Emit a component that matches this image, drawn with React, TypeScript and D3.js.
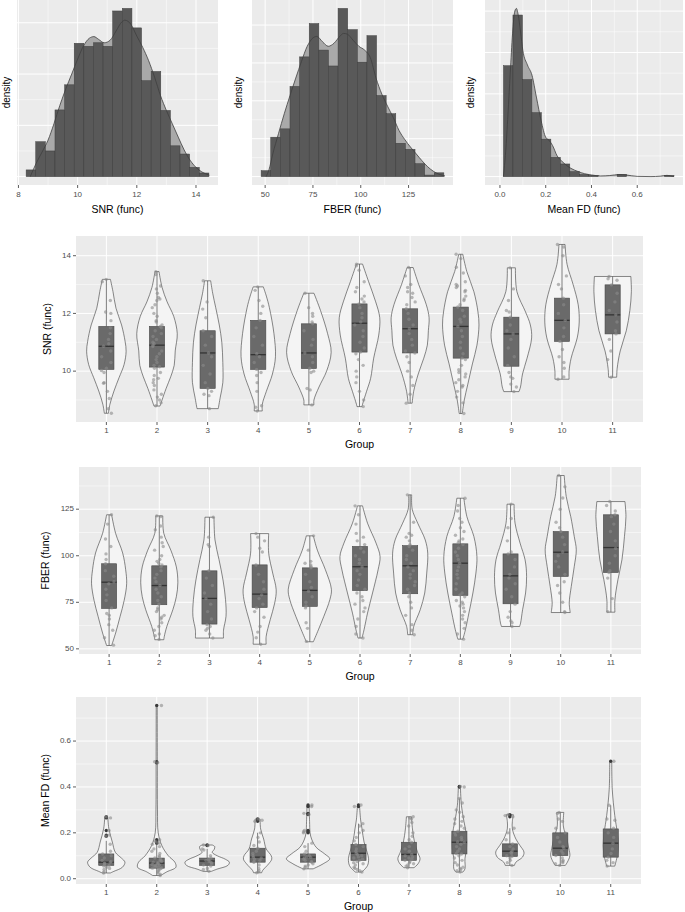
import React from "react";
import * as d3 from "d3";

const FONT = "'Liberation Sans', Arial, Helvetica, sans-serif";
const PANEL_BG = "#ebebeb";

// ---------- top row: histograms with density overlay ----------
const snrBinStart = 8.26;
const snrBinWidth = 0.325;
const snrHist = [0.013, 0.068, 0.05, 0.13, 0.179, 0.26, 0.254, 0.261, 0.254, 0.323, 0.328, 0.29, 0.187, 0.205, 0.129, 0.06, 0.044, 0.018, 0.007];
const snrDensity = [
  [8.4, 0], [8.6, 0.026], [8.8, 0.048], [9.0, 0.071], [9.2, 0.103], [9.4, 0.139], [9.6, 0.171], [9.8, 0.2],
  [10.0, 0.229], [10.2, 0.255], [10.4, 0.27], [10.55, 0.273], [10.7, 0.268], [10.9, 0.261], [11.1, 0.266],
  [11.3, 0.284], [11.5, 0.302], [11.6, 0.305], [11.8, 0.297], [12.0, 0.274], [12.2, 0.252], [12.4, 0.226],
  [12.6, 0.194], [12.8, 0.158], [13.0, 0.129], [13.2, 0.103], [13.4, 0.077], [13.6, 0.052], [13.8, 0.032],
  [14.0, 0.018], [14.2, 0.009], [14.45, 0.003],
];

const fberBinStart = 47.9;
const fberBinWidth = 5.03;
const fberHist = [0.00078, 0.0052, 0.0063, 0.0119, 0.0158, 0.0202, 0.0167, 0.0146, 0.0222, 0.0194, 0.0151, 0.0186, 0.0107, 0.0083, 0.0044, 0.0036, 0.0017, 0.0002, 0.0005];
const fberDensity = [
  [50.5, 0], [52, 0.0009], [54, 0.003], [57, 0.0057], [60, 0.0083], [63, 0.0107], [66, 0.013], [69, 0.0152],
  [72, 0.0172], [75, 0.0183], [77, 0.0185], [80, 0.0178], [83, 0.0172], [86, 0.0176], [89, 0.0185], [91, 0.0189],
  [93, 0.0188], [96, 0.018], [99, 0.0172], [102, 0.0167], [105, 0.0157], [108, 0.013], [111, 0.0109],
  [114, 0.0093], [117, 0.0078], [120, 0.0061], [123, 0.0049], [126, 0.0039], [129, 0.003], [132, 0.0021],
  [135, 0.0013], [138, 0.0007], [141, 0.0003], [144, 0.0001],
];

const fdBinStart = -0.026;
const fdBinWidth = 0.0414;
const fdHist = [0, 5.36, 7.81, 4.69, 3.09, 1.81, 0.93, 0.61, 0.24, 0.1, 0.06, 0, 0, 0.11, 0, 0, 0, 0, 0.06];
const fdDensity = [
  [0.015, 0], [0.025, 1.2], [0.035, 3.0], [0.045, 5.0], [0.055, 6.9], [0.065, 8.0], [0.072, 8.13], [0.08, 7.8],
  [0.09, 7.0], [0.1, 6.1], [0.12, 5.4], [0.14, 4.9], [0.16, 3.8], [0.18, 2.7], [0.2, 1.9], [0.215, 1.75],
  [0.23, 1.5], [0.25, 1.0], [0.27, 0.75], [0.29, 0.55], [0.31, 0.4], [0.34, 0.25], [0.37, 0.14], [0.4, 0.08],
  [0.44, 0.03], [0.48, 0.05], [0.52, 0.1], [0.55, 0.08], [0.6, 0.01], [0.66, 0], [0.7, 0.02], [0.73, 0.06], [0.76, 0],
];

// ---------- violin panels ----------
const groups = ["1", "2", "3", "4", "5", "6", "7", "8", "9", "10", "11"];

// profiles: [value, half width in group units]
const snrViolins = [
  [[13.18, 0.08], [12.76, 0.13], [12.18, 0.19], [11.6, 0.3], [11.03, 0.37], [10.69, 0.39], [10.23, 0.35], [9.77, 0.25], [9.31, 0.15], [8.85, 0.07], [8.54, 0.04]],
  [[13.45, 0.04], [12.9, 0.1], [12.4, 0.2], [11.9, 0.33], [11.3, 0.4], [10.7, 0.36], [10.2, 0.34], [9.8, 0.27], [9.4, 0.18], [9.0, 0.1], [8.79, 0.06]],
  [[13.13, 0.06], [12.7, 0.1], [12.2, 0.16], [11.6, 0.23], [11.0, 0.28], [10.3, 0.3], [9.6, 0.3], [9.1, 0.25], [8.7, 0.21]],
  [[12.92, 0.1], [12.6, 0.16], [12.2, 0.22], [11.3, 0.31], [10.5, 0.34], [9.9, 0.28], [9.3, 0.16], [8.85, 0.08], [8.62, 0.08]],
  [[12.7, 0.1], [12.1, 0.23], [11.3, 0.37], [10.65, 0.44], [10.0, 0.35], [9.45, 0.2], [9.0, 0.1], [8.83, 0.1]],
  [[13.71, 0.06], [13.1, 0.18], [12.4, 0.32], [11.85, 0.4], [11.25, 0.38], [10.45, 0.28], [9.75, 0.22], [9.3, 0.14], [8.85, 0.06], [8.77, 0.05]],
  [[13.59, 0.06], [13.0, 0.17], [12.3, 0.32], [11.85, 0.375], [11.4, 0.36], [10.9, 0.34], [10.45, 0.27], [9.9, 0.16], [9.3, 0.07], [8.89, 0.04]],
  [[14.05, 0.04], [13.45, 0.12], [12.75, 0.26], [12.05, 0.34], [11.6, 0.36], [10.9, 0.32], [10.25, 0.23], [9.55, 0.14], [9.0, 0.07], [8.53, 0.03]],
  [[13.58, 0.08], [12.75, 0.11], [12.05, 0.28], [11.6, 0.375], [11.15, 0.4], [10.45, 0.31], [9.9, 0.22], [9.45, 0.18], [9.29, 0.15]],
  [[14.39, 0.06], [13.7, 0.1], [13.0, 0.22], [12.3, 0.32], [11.7, 0.34], [11.15, 0.3], [10.45, 0.18], [10.0, 0.14], [9.72, 0.14]],
  [[13.28, 0.36], [12.75, 0.37], [12.1, 0.34], [11.4, 0.27], [10.7, 0.15], [10.1, 0.09], [9.79, 0.08]],
];
// [whisker low, q1, median, q3, whisker high]
const snrBoxes = [
  [8.54, 10.06, 10.86, 11.55, 13.18], [8.79, 10.14, 10.9, 11.55, 13.45], [8.7, 9.4, 10.63, 11.4, 13.13],
  [8.62, 10.06, 10.57, 11.76, 12.92], [8.83, 10.09, 10.63, 11.64, 12.7], [8.77, 10.66, 11.66, 12.33, 13.71],
  [8.89, 10.63, 11.47, 12.16, 13.59], [8.53, 10.45, 11.55, 12.22, 14.05], [9.29, 10.17, 11.29, 11.87, 13.58],
  [9.72, 11.03, 11.76, 12.53, 14.39], [9.79, 11.29, 11.95, 12.99, 13.28],
];
const snrPoints = [
  [13.18, 13.1, 12.45, 12.05, 12.0, 11.75, 11.5, 11.3, 11.1, 10.95, 10.86, 10.7, 10.5, 10.3, 10.1, 10.02, 9.95, 9.6, 9.58, 9.3, 9.05, 8.7, 8.54],
  [13.45, 13.35, 12.95, 12.85, 12.7, 12.55, 12.5, 12.45, 12.3, 12.2, 12.0, 11.9, 11.75, 11.7, 11.6, 11.55, 11.5, 11.4, 11.3, 11.2, 11.1, 11.0, 10.95, 10.9, 10.85, 10.7, 10.6, 10.5, 10.4, 10.3, 10.2, 10.15, 10.1, 9.95, 9.85, 9.75, 9.7, 9.6, 9.5, 9.35, 9.2, 9.1, 9.0, 8.9, 8.8],
  [13.13, 12.4, 12.15, 11.85, 11.4, 11.2, 10.9, 10.63, 10.5, 10.2, 9.9, 9.6, 9.4, 9.3, 9.2, 9.15, 8.7],
  [12.92, 12.8, 12.45, 12.25, 12.0, 11.76, 11.5, 11.2, 10.9, 10.6, 10.5, 10.3, 10.06, 9.95, 9.85, 9.6, 9.3, 8.8, 8.75, 8.62],
  [12.7, 12.2, 12.0, 11.9, 11.7, 11.64, 11.4, 11.1, 10.9, 10.63, 10.5, 10.3, 10.1, 10.0, 9.95, 9.4, 9.35, 8.83],
  [13.71, 13.65, 13.5, 13.1, 12.9, 12.75, 12.6, 12.5, 12.4, 12.33, 12.2, 12.0, 11.85, 11.7, 11.6, 11.4, 11.2, 11.0, 10.8, 10.66, 10.6, 10.4, 10.2, 10.0, 9.8, 9.6, 9.3, 9.0, 8.77],
  [13.59, 13.3, 13.0, 12.9, 12.75, 12.7, 12.55, 12.4, 12.3, 12.16, 12.0, 11.8, 11.6, 11.47, 11.3, 11.1, 10.9, 10.7, 10.63, 10.5, 10.3, 10.0, 9.8, 9.5, 9.2, 8.89],
  [14.05, 13.9, 13.6, 13.4, 13.1, 13.0, 12.95, 12.9, 12.8, 12.75, 12.6, 12.5, 12.45, 12.3, 12.22, 12.1, 11.9, 11.8, 11.7, 11.55, 11.4, 11.2, 11.0, 10.8, 10.6, 10.45, 10.4, 10.2, 10.05, 9.95, 9.9, 9.8, 9.7, 9.6, 9.5, 9.45, 9.3, 9.1, 8.9, 8.53],
  [13.58, 12.85, 12.45, 12.1, 12.05, 11.87, 11.6, 11.4, 11.29, 11.1, 10.8, 10.5, 10.2, 9.95, 9.8, 9.75, 9.55, 9.45, 9.29],
  [14.39, 14.3, 14.0, 13.3, 13.0, 12.85, 12.53, 12.3, 12.0, 11.76, 11.5, 11.2, 11.03, 10.75, 10.5, 10.3, 10.1, 9.8, 9.72],
  [13.28, 13.2, 13.15, 12.99, 12.7, 12.4, 12.1, 11.95, 11.7, 11.4, 11.29, 11.1, 10.7, 10.4, 9.79],
];

const fberViolins = [
  [[122, 0.05], [112, 0.13], [101.5, 0.27], [92.5, 0.33], [85, 0.35], [76, 0.3], [67.5, 0.22], [58.5, 0.13], [51.8, 0.05]],
  [[121.4, 0.07], [112, 0.09], [103, 0.23], [94, 0.34], [85.5, 0.37], [78, 0.34], [71, 0.27], [62, 0.15], [56.7, 0.1], [54.9, 0.09]],
  [[120.7, 0.09], [108.5, 0.11], [98, 0.19], [87, 0.27], [76.5, 0.32], [67.5, 0.33], [60, 0.28], [55.8, 0.28]],
  [[111.9, 0.18], [101.4, 0.18], [90.7, 0.26], [81.7, 0.33], [74.6, 0.3], [65.6, 0.21], [56.7, 0.13], [52.5, 0.13]],
  [[110.7, 0.07], [103, 0.15], [92.5, 0.31], [82, 0.43], [76.5, 0.4], [67.5, 0.28], [60.2, 0.17], [53.8, 0.07]],
  [[126.8, 0.05], [117.5, 0.15], [106.8, 0.32], [99.6, 0.4], [92.4, 0.36], [80, 0.25], [69.2, 0.15], [60.2, 0.08], [55.8, 0.04]],
  [[132.7, 0.03], [125, 0.04], [117.5, 0.15], [108.5, 0.3], [101.4, 0.35], [90.7, 0.33], [80, 0.29], [71, 0.2], [62, 0.07], [57.6, 0.05]],
  [[130.9, 0.07], [121, 0.13], [110.3, 0.27], [99.6, 0.33], [90.7, 0.31], [80, 0.25], [69.2, 0.17], [60.2, 0.1], [55.2, 0.05]],
  [[127.7, 0.07], [117.5, 0.09], [106.8, 0.19], [97.8, 0.29], [88.9, 0.32], [80, 0.3], [71, 0.24], [63.8, 0.2], [62, 0.18]],
  [[143.1, 0.07], [131.8, 0.11], [121, 0.2], [110.3, 0.27], [103.2, 0.31], [94.2, 0.27], [83.5, 0.21], [74.6, 0.17], [69.5, 0.19]],
  [[129.1, 0.28], [121, 0.3], [110.3, 0.27], [97.8, 0.22], [87.1, 0.14], [76.3, 0.08], [69.7, 0.08]],
];
const fberBoxes = [
  [51.8, 71.7, 85.8, 95.7, 122], [54.9, 73.7, 84, 94.6, 121.4], [55.8, 63.3, 77.1, 91.9, 120.7],
  [52.5, 72.2, 79.4, 95.1, 111.9], [53.8, 72.8, 81.4, 93.5, 110.7], [55.8, 81.3, 94.1, 105, 126.8],
  [57.6, 79.6, 94.6, 105.4, 132.7], [55.2, 78.7, 96, 106.4, 130.9], [62, 74.2, 89.2, 101, 127.7],
  [69.5, 88.9, 101.9, 113, 143.1], [69.7, 91, 104.4, 122, 129.1],
];
const fberPoints = [
  [122, 117, 109, 105, 101, 98, 95.7, 92, 89, 86, 85, 82, 79, 76, 72, 69, 68, 66, 63, 60, 56, 52],
  [121.4, 121, 116, 114, 110, 107, 105, 103, 100, 98, 97, 96, 95, 94, 92, 90, 88, 86, 84, 82, 80, 78, 76, 74, 72, 71, 70, 68, 67, 66, 64, 62, 60, 58, 57, 55],
  [120.7, 110, 106, 105, 92, 88, 84, 80, 77, 74, 70, 66, 63, 62, 61, 60, 58, 55.8],
  [111.9, 110, 108, 104, 102, 95, 90, 86, 82, 79, 77, 74, 72, 70, 67, 62, 59, 56, 52.5],
  [110.7, 103, 97, 96, 95, 94, 93.5, 90, 86, 83, 81, 78, 75, 73, 72, 64, 61, 54],
  [126.8, 122, 117, 112, 110, 108, 106, 104, 102, 100, 98, 96, 94, 92, 90, 87, 84, 82, 80, 78, 76, 74, 72, 70, 66, 62, 58, 55.8],
  [132.7, 118, 112, 111, 110, 108, 106, 105, 103, 100, 98, 96, 94, 92, 90, 88, 86, 84, 82, 80, 78, 75, 72, 68, 63, 60, 57.6],
  [130.9, 127, 124, 120, 118, 115, 113, 111, 109, 108, 107, 106, 104, 102, 100, 98, 96, 94, 92, 90, 88, 85, 82, 80, 79, 78, 76, 75, 74, 73, 72, 70, 68, 66, 64, 61, 58, 55.2],
  [127.7, 120, 115, 108, 102, 101, 98, 94, 90, 88, 85, 82, 78, 74, 70, 67, 65, 64, 62],
  [143.1, 137, 131, 125, 118, 115, 113, 110, 106, 102, 100, 97, 94, 90, 86, 84, 80, 75, 70, 69.5],
  [129.1, 127, 124, 122, 121, 117, 113, 108, 104, 100, 96, 92, 91, 88, 77, 70],
];

const fdViolins = [
  [[0.27, 0.03], [0.22, 0.05], [0.16, 0.12], [0.115, 0.18], [0.09, 0.3], [0.072, 0.37], [0.05, 0.32], [0.032, 0.15], [0.025, 0.08]],
  [[0.755, 0.01], [0.5, 0.012], [0.3, 0.015], [0.2, 0.03], [0.145, 0.1], [0.1, 0.23], [0.072, 0.36], [0.05, 0.38], [0.03, 0.2], [0.014, 0.08]],
  [[0.147, 0.1], [0.14, 0.15], [0.128, 0.14], [0.115, 0.1], [0.1, 0.2], [0.085, 0.36], [0.072, 0.44], [0.058, 0.41], [0.042, 0.2], [0.032, 0.08]],
  [[0.26, 0.05], [0.217, 0.06], [0.173, 0.12], [0.13, 0.17], [0.1, 0.27], [0.085, 0.28], [0.065, 0.22], [0.036, 0.1], [0.026, 0.08]],
  [[0.321, 0.02], [0.25, 0.03], [0.2, 0.04], [0.173, 0.07], [0.137, 0.16], [0.108, 0.33], [0.087, 0.43], [0.065, 0.3], [0.046, 0.13], [0.043, 0.1]],
  [[0.321, 0.02], [0.26, 0.04], [0.217, 0.07], [0.16, 0.11], [0.116, 0.17], [0.087, 0.2], [0.058, 0.18], [0.036, 0.1], [0.029, 0.06]],
  [[0.27, 0.05], [0.217, 0.07], [0.16, 0.11], [0.116, 0.17], [0.087, 0.22], [0.065, 0.18], [0.048, 0.1]],
  [[0.402, 0.02], [0.32, 0.04], [0.25, 0.09], [0.19, 0.14], [0.13, 0.14], [0.087, 0.11], [0.043, 0.11], [0.029, 0.07]],
  [[0.279, 0.07], [0.25, 0.05], [0.217, 0.05], [0.173, 0.12], [0.145, 0.2], [0.116, 0.28], [0.094, 0.25], [0.072, 0.12], [0.058, 0.09]],
  [[0.289, 0.07], [0.23, 0.06], [0.173, 0.13], [0.13, 0.17], [0.1, 0.19], [0.072, 0.14], [0.058, 0.1]],
  [[0.512, 0.02], [0.39, 0.03], [0.275, 0.08], [0.2, 0.13], [0.145, 0.15], [0.1, 0.13], [0.055, 0.08]],
];
const fdBoxes = [
  [0.025, 0.058, 0.072, 0.108, 0.165], [0.014, 0.046, 0.068, 0.09, 0.15], [0.032, 0.058, 0.077, 0.09, 0.13],
  [0.026, 0.072, 0.094, 0.133, 0.2], [0.043, 0.072, 0.094, 0.108, 0.155], [0.029, 0.08, 0.111, 0.149, 0.24],
  [0.048, 0.08, 0.106, 0.159, 0.27], [0.029, 0.108, 0.159, 0.207, 0.35], [0.058, 0.097, 0.12, 0.152, 0.22],
  [0.058, 0.101, 0.133, 0.2, 0.289], [0.055, 0.094, 0.155, 0.217, 0.32],
];
const fdOutliers = [
  [0.27, 0.265, 0.21, 0.19, 0.185], [0.755, 0.51, 0.505, 0.17, 0.165, 0.16, 0.155], [0.147, 0.145],
  [0.26, 0.255, 0.25], [0.321, 0.315, 0.285, 0.28, 0.21, 0.205, 0.2], [0.321, 0.315], [],
  [0.402, 0.4], [0.279, 0.275, 0.27], [], [0.512],
];
const fdPoints = [
  [0.27, 0.265, 0.21, 0.19, 0.185, 0.15, 0.12, 0.108, 0.1, 0.09, 0.08, 0.075, 0.072, 0.068, 0.065, 0.06, 0.058, 0.055, 0.05, 0.045, 0.04, 0.03, 0.025],
  [0.755, 0.51, 0.505, 0.17, 0.165, 0.16, 0.155, 0.15, 0.14, 0.13, 0.12, 0.11, 0.1, 0.095, 0.09, 0.085, 0.08, 0.078, 0.075, 0.072, 0.07, 0.068, 0.065, 0.062, 0.06, 0.058, 0.055, 0.052, 0.05, 0.048, 0.046, 0.044, 0.04, 0.036, 0.03, 0.025, 0.02, 0.014],
  [0.147, 0.145, 0.13, 0.125, 0.1, 0.09, 0.085, 0.08, 0.077, 0.075, 0.07, 0.065, 0.06, 0.055, 0.045, 0.04, 0.032],
  [0.26, 0.255, 0.25, 0.2, 0.18, 0.16, 0.145, 0.133, 0.12, 0.11, 0.1, 0.094, 0.09, 0.085, 0.08, 0.075, 0.072, 0.06, 0.045, 0.035, 0.03, 0.026],
  [0.321, 0.315, 0.285, 0.28, 0.21, 0.205, 0.2, 0.155, 0.14, 0.12, 0.108, 0.1, 0.095, 0.094, 0.09, 0.085, 0.08, 0.075, 0.072, 0.065, 0.06, 0.055, 0.05, 0.043],
  [0.321, 0.315, 0.24, 0.23, 0.21, 0.2, 0.18, 0.165, 0.149, 0.14, 0.13, 0.12, 0.111, 0.105, 0.1, 0.095, 0.09, 0.085, 0.08, 0.075, 0.07, 0.065, 0.06, 0.05, 0.045, 0.04, 0.035, 0.029],
  [0.27, 0.265, 0.26, 0.245, 0.23, 0.2, 0.185, 0.17, 0.159, 0.14, 0.13, 0.12, 0.106, 0.1, 0.095, 0.09, 0.085, 0.08, 0.075, 0.07, 0.065, 0.06, 0.055, 0.048],
  [0.402, 0.4, 0.35, 0.33, 0.3, 0.29, 0.27, 0.26, 0.25, 0.24, 0.23, 0.22, 0.207, 0.2, 0.19, 0.18, 0.17, 0.16, 0.159, 0.15, 0.14, 0.13, 0.12, 0.11, 0.108, 0.1, 0.09, 0.08, 0.07, 0.06, 0.05, 0.045, 0.04, 0.035, 0.029],
  [0.279, 0.275, 0.27, 0.22, 0.2, 0.17, 0.152, 0.14, 0.13, 0.12, 0.115, 0.11, 0.1, 0.097, 0.09, 0.08, 0.07, 0.058],
  [0.289, 0.285, 0.26, 0.25, 0.22, 0.2, 0.18, 0.16, 0.14, 0.133, 0.12, 0.11, 0.101, 0.09, 0.08, 0.075, 0.07, 0.065, 0.058],
  [0.512, 0.32, 0.26, 0.255, 0.22, 0.2, 0.18, 0.155, 0.13, 0.11, 0.094, 0.08, 0.07, 0.055],
];

type HistProps = {
  left: number; right: number; binStart: number; binWidth: number; heights: number[]; density: number[][];
  xMajor: number[]; xMinor: number[]; yMajor: number[]; yMinor: number[]; fmt: (v: number) => string;
  title: string; densityX: number;
};

function Histogram(p: HistProps) {
  const top = 0, bottom = 185;
  const xmin = p.binStart, xmax = p.binStart + p.heights.length * p.binWidth;
  const xpad = (xmax - xmin) * 0.05;
  const x = d3.scaleLinear().domain([xmin - xpad, xmax + xpad]).range([p.left, p.right]);
  const ymax = Math.max(d3.max(p.heights)!, d3.max(p.density, (d) => d[1])!);
  const y = d3.scaleLinear().domain([-ymax * 0.05, ymax * 1.05]).range([bottom, top]);
  const area = d3.area<number[]>().x((d) => x(d[0])).y0(y(0)).y1((d) => y(d[1])).curve(d3.curveMonotoneX);
  const line = d3.line<number[]>().x((d) => x(d[0])).y((d) => y(d[1])).curve(d3.curveMonotoneX);
  return (
    <g>
      <rect x={p.left} y={top} width={p.right - p.left} height={bottom - top} fill={PANEL_BG} />
      {p.yMinor.map((v) => <line key={"ym" + v} x1={p.left} x2={p.right} y1={y(v)} y2={y(v)} stroke="#fff" strokeWidth={0.5} />)}
      {p.xMinor.map((v) => <line key={"xm" + v} x1={x(v)} x2={x(v)} y1={top} y2={bottom} stroke="#fff" strokeWidth={0.5} />)}
      {p.yMajor.map((v) => <line key={"yM" + v} x1={p.left} x2={p.right} y1={y(v)} y2={y(v)} stroke="#fff" strokeWidth={1} />)}
      {p.xMajor.map((v) => <line key={"xM" + v} x1={x(v)} x2={x(v)} y1={top} y2={bottom} stroke="#fff" strokeWidth={1} />)}
      <path d={area(p.density)!} fill="#a9a9a9" />
      {p.heights.map((h, i) => {
        const x0 = x(p.binStart + i * p.binWidth), x1 = x(p.binStart + (i + 1) * p.binWidth);
        return <rect key={i} x={x0} y={y(h)} width={x1 - x0} height={y(0) - y(h)} fill="#595959" stroke="#3e3e3e" strokeWidth={0.5} />;
      })}
      <path d={line(p.density)!} fill="none" stroke="#3f3f3f" strokeWidth={0.8} />
      {p.xMajor.map((v) => (
        <g key={"t" + v}>
          <line x1={x(v)} x2={x(v)} y1={bottom} y2={bottom + 3} stroke="#333" strokeWidth={0.8} />
          <text x={x(v)} y={bottom + 10} fontSize={8} fill="#4d4d4d" textAnchor="middle" dominantBaseline="middle">{p.fmt(v)}</text>
        </g>
      ))}
      <text x={(p.left + p.right) / 2} y={bottom + 25} fontSize={10.5} textAnchor="middle" dominantBaseline="middle">{p.title}</text>
      <text transform={`translate(${p.densityX},${(top + bottom) / 2}) rotate(-90)`} fontSize={10} textAnchor="middle" dominantBaseline="middle">density</text>
    </g>
  );
}

type ViolinProps = {
  left: number; right: number; top: number; bottom: number;
  violins: number[][][]; boxes: number[][]; points: number[][]; outliers?: number[][];
  yMajor: number[]; yMinor: number[]; fmt: (v: number) => string; yLabel: string; yLabelX: number; seed: number;
};

function ViolinPanel(p: ViolinProps) {
  const vals = p.violins.flat().map((d) => d[0]);
  const [mn, mx] = d3.extent(vals) as [number, number];
  const pad = (mx - mn) * 0.05;
  const y = d3.scaleLinear().domain([mn - pad, mx + pad]).range([p.bottom, p.top]);
  const x = d3.scaleLinear().domain([0.4, groups.length + 0.6]).range([p.left, p.right]);
  const unit = x(1) - x(0);
  const jitter = d3.randomUniform.source(d3.randomLcg(p.seed))(-0.1, 0.1);
  return (
    <g>
      <rect x={p.left} y={p.top} width={p.right - p.left} height={p.bottom - p.top} fill={PANEL_BG} />
      {p.yMinor.map((v) => <line key={"ym" + v} x1={p.left} x2={p.right} y1={y(v)} y2={y(v)} stroke="#fff" strokeWidth={0.5} />)}
      {p.yMajor.map((v) => <line key={"yM" + v} x1={p.left} x2={p.right} y1={y(v)} y2={y(v)} stroke="#fff" strokeWidth={1} />)}
      {groups.map((g, i) => <line key={"xg" + g} x1={x(i + 1)} x2={x(i + 1)} y1={p.top} y2={p.bottom} stroke="#fff" strokeWidth={1} />)}
      {groups.map((g, i) => {
        const cx = x(i + 1);
        const area = d3.area<number[]>()
          .y((d) => y(d[0]))
          .x0((d) => cx - d[1] * unit)
          .x1((d) => cx + d[1] * unit)
          .curve(d3.curveCatmullRom.alpha(0.5));
        const [lo, q1, med, q3, hi] = p.boxes[i];
        const bw = 0.15 * unit;
        return (
          <g key={"v" + g}>
            <path d={area(p.violins[i])!} fill="#f4f4f4" stroke="#3a3a3a" strokeWidth={0.6} />
            <line x1={cx} x2={cx} y1={y(hi)} y2={y(q3)} stroke="#4a4a4a" strokeWidth={0.7} />
            <line x1={cx} x2={cx} y1={y(q1)} y2={y(lo)} stroke="#4a4a4a" strokeWidth={0.7} />
            <rect x={cx - bw} y={y(q3)} width={2 * bw} height={y(q1) - y(q3)} fill="#6a6a6a" stroke="#474747" strokeWidth={0.6} />
            <line x1={cx - bw} x2={cx + bw} y1={y(med)} y2={y(med)} stroke="#333" strokeWidth={1.3} />
            {(p.outliers ? p.outliers[i] : []).map((v, k) => (
              <circle key={"o" + k} cx={cx} cy={y(v)} r={1.7} fill="#3a3a3a" />
            ))}
            {p.points[i].map((v, k) => (
              <circle key={"p" + k} cx={x(i + 1 + jitter())} cy={y(v)} r={1.7} fill="#8a8a8a" fillOpacity={0.6} />
            ))}
          </g>
        );
      })}
      {p.yMajor.map((v) => (
        <g key={"yt" + v}>
          <line x1={p.left - 3} x2={p.left} y1={y(v)} y2={y(v)} stroke="#333" strokeWidth={0.8} />
          <text x={p.left - 5} y={y(v)} fontSize={8} fill="#4d4d4d" textAnchor="end" dominantBaseline="middle">{p.fmt(v)}</text>
        </g>
      ))}
      {groups.map((g, i) => (
        <g key={"xt" + g}>
          <line x1={x(i + 1)} x2={x(i + 1)} y1={p.bottom} y2={p.bottom + 3} stroke="#333" strokeWidth={0.8} />
          <text x={x(i + 1)} y={p.bottom + 9} fontSize={8} fill="#4d4d4d" textAnchor="middle" dominantBaseline="middle">{g}</text>
        </g>
      ))}
      <text x={(p.left + p.right) / 2} y={p.bottom + 23} fontSize={10.5} textAnchor="middle" dominantBaseline="middle">Group</text>
      <text transform={`translate(${p.yLabelX},${(p.top + p.bottom) / 2}) rotate(-90)`} fontSize={10.5} textAnchor="middle" dominantBaseline="middle">{p.yLabel}</text>
    </g>
  );
}

const fmtInt = d3.format("d");
const fmt1 = d3.format(".1f");

export default function App() {
  return (
    <svg width={685} height={912} style={{ position: "absolute", left: 0, top: 0, background: "#fff" }} fontFamily={FONT}>
      <Histogram left={17} right={218} binStart={snrBinStart} binWidth={snrBinWidth} heights={snrHist} density={snrDensity}
        xMajor={[8, 10, 12, 14]} xMinor={[9, 11, 13]} yMajor={[0, 0.1, 0.2, 0.3]} yMinor={[0.05, 0.15, 0.25]}
        fmt={fmtInt} title="SNR (func)" densityX={7} />
      <Histogram left={252} right={453} binStart={fberBinStart} binWidth={fberBinWidth} heights={fberHist} density={fberDensity}
        xMajor={[50, 75, 100, 125]} xMinor={[62.5, 87.5, 112.5, 137.5]} yMajor={[0, 0.005, 0.01, 0.015, 0.02]}
        yMinor={[0.0025, 0.0075, 0.0125, 0.0175]} fmt={fmtInt} title="FBER (func)" densityX={239} />
      <Histogram left={485} right={683} binStart={fdBinStart} binWidth={fdBinWidth} heights={fdHist} density={fdDensity}
        xMajor={[0, 0.2, 0.4, 0.6]} xMinor={[0.1, 0.3, 0.5, 0.7]} yMajor={[0, 2, 4, 6, 8]} yMinor={[1, 3, 5, 7]}
        fmt={fmt1} title="Mean FD (func)" densityX={471} />

      <ViolinPanel left={76} right={643} top={236} bottom={422} violins={snrViolins} boxes={snrBoxes} points={snrPoints}
        yMajor={[10, 12, 14]} yMinor={[9, 11, 13]} fmt={fmtInt} yLabel="SNR (func)" yLabelX={48} seed={0.17} />
      <ViolinPanel left={79} right={641} top={467} bottom={654} violins={fberViolins} boxes={fberBoxes} points={fberPoints}
        yMajor={[50, 75, 100, 125]} yMinor={[62.5, 87.5, 112.5, 137.5]} fmt={fmtInt} yLabel="FBER (func)" yLabelX={46} seed={0.42} />
      <ViolinPanel left={76} right={641} top={697} bottom={884} violins={fdViolins} boxes={fdBoxes} points={fdPoints} outliers={fdOutliers}
        yMajor={[0, 0.2, 0.4, 0.6]} yMinor={[0.1, 0.3, 0.5, 0.7]} fmt={fmt1} yLabel="Mean FD (func)" yLabelX={46} seed={0.73} />
    </svg>
  );
}
